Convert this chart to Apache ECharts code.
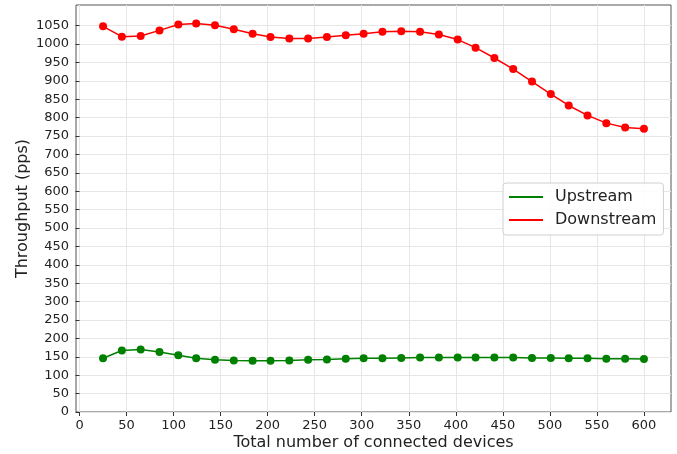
<!DOCTYPE html>
<html>
<head>
<meta charset="utf-8">
<script src="https://cdn.jsdelivr.net/npm/echarts@6/dist/echarts.min.js"></script>
<style>
  html, body { margin: 0; padding: 0; background: #fff; }
  #chart { width: 677px; height: 454px; }
</style>
</head>
<body>
<div id="chart"></div>
<script>
// x positions (number of devices)
const devices = [25, 45, 65, 85, 105, 124, 144, 164, 184, 203, 223, 243, 263, 283, 302,
                 322, 342, 362, 382, 402, 421, 441, 461, 481, 501, 520, 540, 560, 580, 600]
const upstream = [146, 167, 170, 163, 154, 146, 142, 140, 139, 139, 140, 142, 143, 145, 146,
                  146, 147, 148, 148, 148, 148, 148, 148, 147, 147, 146, 146, 145, 145, 144]
const downstream = [1048, 1020, 1022, 1037, 1053, 1056, 1051, 1040, 1028, 1019, 1015, 1015, 1019, 1024, 1028,
                    1033, 1035, 1033, 1026, 1012, 990, 962, 932, 898, 864, 833, 806, 785, 773, 770]
const xTicks = [0, 50, 100, 150, 200, 250, 300, 350, 400, 450, 500, 550, 600]
const yTicks = [0, 50, 100, 150, 200, 250, 300, 350, 400, 450, 500, 550, 600, 650, 700,
                750, 800, 850, 900, 950, 1000, 1050]

const font = 'DejaVu Sans'
const toPairs = (ys) => devices.map((x, i) => [x, ys[i]])

const chart = echarts.init(document.getElementById('chart'), null, { renderer: 'canvas' })

const tickStyle = { show: true, inside: false, length: 4, lineStyle: { color: '#333', width: 1 } }
const gridLine = { show: true, lineStyle: { color: '#e6e6e6', width: 1 } }
const plain = (v) => String(v)

chart.setOption({
    animation: false,
    backgroundColor: '#fff',
    grid: {
        left: 76, right: 6, top: 5, bottom: 42,
        outerBoundsMode: 'none',
        show: true,
        borderColor: '#555',
        borderWidth: 1
    },
    legend: {
        orient: 'vertical',
        left: 503,
        top: 183,
        padding: [5, 7, 6, 6],
        itemGap: 5,
        itemWidth: 34,
        itemHeight: 2,
        icon: 'rect',
        backgroundColor: 'rgba(255,255,255,0.85)',
        borderColor: '#d0d0d0',
        borderWidth: 1,
        borderRadius: 3,
        textStyle: { fontFamily: font, fontSize: 16, lineHeight: 18, color: '#222', padding: [0, 0, 0, 7] },
        data: ['Upstream', 'Downstream']
    },
    xAxis: {
        type: 'value',
        min: -3.75,
        max: 628.75,
        name: 'Total number of connected devices',
        nameLocation: 'middle',
        nameGap: 23,
        nameMoveOverlap: false,
        nameTextStyle: { fontFamily: font, fontSize: 16, color: '#222' },
        axisLine: { show: false },
        axisTick: Object.assign({}, tickStyle, { customValues: xTicks }),
        axisLabel: { customValues: xTicks, formatter: plain, fontFamily: font, fontSize: 13, color: '#222', margin: 7 },
        splitLine: gridLine
    },
    yAxis: {
        type: 'value',
        min: 0,
        max: 1106,
        name: 'Throughput (pps)',
        nameLocation: 'middle',
        nameGap: 45,
        nameMoveOverlap: false,
        nameTextStyle: { fontFamily: font, fontSize: 16, color: '#222' },
        axisLine: { show: false },
        axisTick: Object.assign({}, tickStyle, { customValues: yTicks }),
        axisLabel: { customValues: yTicks, formatter: plain, fontFamily: font, fontSize: 13, color: '#222', margin: 7 },
        splitLine: gridLine
    },
    series: [
        {
            name: 'Upstream',
            type: 'line',
            data: toPairs(upstream),
            color: '#008000',
            symbol: 'circle',
            symbolSize: 8,
            lineStyle: { width: 1.5, color: '#008000' },
            itemStyle: { color: '#008000' }
        },
        {
            name: 'Downstream',
            type: 'line',
            data: toPairs(downstream),
            color: '#ff0000',
            symbol: 'circle',
            symbolSize: 8,
            lineStyle: { width: 1.5, color: '#ff0000' },
            itemStyle: { color: '#ff0000' }
        }
    ]
})
</script>
</body>
</html>
